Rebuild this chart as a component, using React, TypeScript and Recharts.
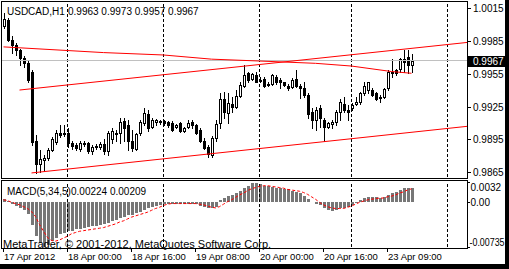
import { ComposedChart, Bar, Line, XAxis, YAxis, ReferenceLine } from "recharts"

const FONT = "'Liberation Sans', Arial, sans-serif"

// USDCAD H1, 17 Apr 2012 08:00 .. 23 Apr 2012 15:00
const OPEN = [
  0.9999, 1.0004, 0.9986, 0.9981, 0.9977, 0.9969, 0.9965, 0.9957, 0.9894, 0.9873,
  0.9876, 0.9878, 0.9885, 0.9893, 0.9901, 0.9901, 0.9901, 0.9892, 0.9890, 0.9886,
  0.9891, 0.9892, 0.9884, 0.9888, 0.9888, 0.9891, 0.9884, 0.9895, 0.9901, 0.9901,
  0.9912, 0.9908, 0.9894, 0.9886, 0.9901, 0.9910, 0.9918, 0.9906, 0.9911, 0.9911,
  0.9912, 0.9911, 0.9910, 0.9906, 0.9910, 0.9903, 0.9906, 0.9911, 0.9908, 0.9904,
  0.9894, 0.9888, 0.9881, 0.9896, 0.9910, 0.9932, 0.9919, 0.9927, 0.9925, 0.9935,
  0.9944, 0.9956, 0.9950, 0.9954, 0.9949, 0.9950, 0.9945, 0.9946, 0.9952, 0.9949,
  0.9947, 0.9944, 0.9943, 0.9950, 0.9944, 0.9942, 0.9936, 0.9920, 0.9913, 0.9924,
  0.9913, 0.9906, 0.9909, 0.9911, 0.9920, 0.9927, 0.9922, 0.9924, 0.9927, 0.9929,
  0.9937, 0.9940, 0.9940, 0.9937, 0.9933, 0.9934, 0.9942, 0.9956, 0.9958, 0.9959,
  0.9968, 0.9970, 0.9963,
]
const HIGH = [
  1.0010, 1.0006, 0.9989, 0.9983, 0.9978, 0.9971, 0.9967, 0.9958, 0.9899, 0.9885,
  0.9881, 0.9887, 0.9897, 0.9904, 0.9908, 0.9908, 0.9905, 0.9894, 0.9892, 0.9894,
  0.9894, 0.9893, 0.9890, 0.9891, 0.9893, 0.9895, 0.9903, 0.9905, 0.9904, 0.9915,
  0.9915, 0.9913, 0.9904, 0.9901, 0.9913, 0.9924, 0.9922, 0.9915, 0.9914, 0.9913,
  0.9913, 0.9912, 0.9912, 0.9909, 0.9911, 0.9906, 0.9913, 0.9913, 0.9909, 0.9905,
  0.9896, 0.9890, 0.9898, 0.9913, 0.9937, 0.9938, 0.9937, 0.9934, 0.9940, 0.9947,
  0.9963, 0.9957, 0.9956, 0.9957, 0.9952, 0.9952, 0.9947, 0.9955, 0.9954, 0.9951,
  0.9947, 0.9946, 0.9951, 0.9958, 0.9946, 0.9947, 0.9937, 0.9924, 0.9925, 0.9926,
  0.9915, 0.9911, 0.9913, 0.9922, 0.9932, 0.9934, 0.9926, 0.9928, 0.9934, 0.9938,
  0.9947, 0.9947, 0.9942, 0.9938, 0.9936, 0.9942, 0.9958, 0.9968, 0.9959, 0.9969,
  0.9977, 0.9977, 0.9973,
]
const LOW = [
  0.9997, 0.9985, 0.9974, 0.9972, 0.9963, 0.9961, 0.9947, 0.9890, 0.9864, 0.9865,
  0.9866, 0.9876, 0.9884, 0.9891, 0.9897, 0.9898, 0.9888, 0.9886, 0.9885, 0.9884,
  0.9889, 0.9883, 0.9882, 0.9886, 0.9886, 0.9882, 0.9881, 0.9892, 0.9894, 0.9892,
  0.9894, 0.9885, 0.9884, 0.9885, 0.9899, 0.9908, 0.9903, 0.9905, 0.9908, 0.9909,
  0.9908, 0.9906, 0.9903, 0.9905, 0.9902, 0.9902, 0.9905, 0.9905, 0.9900, 0.9893,
  0.9886, 0.9879, 0.9879, 0.9894, 0.9905, 0.9915, 0.9910, 0.9920, 0.9924, 0.9934,
  0.9943, 0.9947, 0.9949, 0.9947, 0.9947, 0.9943, 0.9944, 0.9945, 0.9946, 0.9942,
  0.9944, 0.9940, 0.9942, 0.9943, 0.9933, 0.9934, 0.9915, 0.9905, 0.9904, 0.9906,
  0.9894, 0.9905, 0.9905, 0.9908, 0.9913, 0.9920, 0.9913, 0.9922, 0.9926, 0.9927,
  0.9936, 0.9937, 0.9935, 0.9931, 0.9929, 0.9933, 0.9940, 0.9952, 0.9954, 0.9957,
  0.9957, 0.9956, 0.9957,
]
const CLOSE = [
  1.0005, 0.9986, 0.9981, 0.9977, 0.9969, 0.9965, 0.9949, 0.9893, 0.9873, 0.9877,
  0.9878, 0.9885, 0.9895, 0.9901, 0.9899, 0.9900, 0.9892, 0.9889, 0.9887, 0.9892,
  0.9892, 0.9884, 0.9888, 0.9889, 0.9891, 0.9884, 0.9901, 0.9903, 0.9900, 0.9911,
  0.9905, 0.9894, 0.9887, 0.9900, 0.9911, 0.9919, 0.9905, 0.9913, 0.9913, 0.9912,
  0.9910, 0.9908, 0.9904, 0.9908, 0.9903, 0.9905, 0.9910, 0.9908, 0.9901, 0.9894,
  0.9887, 0.9882, 0.9896, 0.9909, 0.9932, 0.9920, 0.9928, 0.9925, 0.9935, 0.9945,
  0.9954, 0.9949, 0.9955, 0.9947, 0.9948, 0.9944, 0.9946, 0.9954, 0.9947, 0.9947,
  0.9945, 0.9942, 0.9949, 0.9944, 0.9942, 0.9936, 0.9918, 0.9913, 0.9922, 0.9915,
  0.9906, 0.9910, 0.9911, 0.9920, 0.9929, 0.9922, 0.9920, 0.9926, 0.9929, 0.9937,
  0.9944, 0.9947, 0.9936, 0.9932, 0.9934, 0.9941, 0.9957, 0.9957, 0.9956, 0.9968,
  0.9966, 0.9963, 0.9967,
]

// MACD(5,34,5): main (histogram) and signal (dotted)
const MACD = [
  0.0004, 0.0001, -0.0004, -0.0007, -0.0010, -0.0013, -0.0020, -0.0037, -0.0056, -0.0067,
  -0.00735, -0.0070, -0.0064, -0.0059, -0.0053, -0.0051, -0.0048, -0.0047, -0.0045, -0.0044,
  -0.0043, -0.0041, -0.0040, -0.0039, -0.0037, -0.0036, -0.0035, -0.0032, -0.0029, -0.0026,
  -0.0024, -0.0022, -0.0021, -0.0018, -0.0016, -0.0013, -0.0011, -0.0009, -0.0007, -0.0005,
  -0.0004, -0.0004, -0.0004, -0.0004, -0.0004, -0.0004, -0.0003, -0.0003, -0.0004, -0.0007,
  -0.0009, -0.0011, -0.0011, -0.0008, 0.0003, 0.0006, 0.0009, 0.0011, 0.0014, 0.0018,
  0.0022, 0.0026, 0.0031, 0.0030, 0.0028, 0.0026, 0.0025, 0.0024, 0.0023, 0.0022,
  0.0021, 0.0020, 0.0017, 0.0016, 0.0014, 0.0010, 0.0004, -0.0001, -0.0003, -0.0005,
  -0.0010, -0.0013, -0.0015, -0.0013, -0.0011, -0.0010, -0.0008, -0.0005, -0.0002, 0.0002,
  0.0006, 0.0007, 0.0007, 0.0007, 0.0006, 0.0007, 0.0011, 0.0014, 0.0016, 0.0019,
  0.0022, 0.0023, 0.00224,
]
const SIGNAL = [
  0.0003, 0.0002, -0.0001, -0.0003, -0.0005, -0.0008, -0.0011, -0.0016, -0.0024, -0.0037,
  -0.0048, -0.0058, -0.0063, -0.0064, -0.0062, -0.0059, -0.0056, -0.0052, -0.0050, -0.0048,
  -0.0047, -0.0046, -0.0045, -0.0044, -0.0043, -0.0042, -0.0040, -0.0038, -0.0036, -0.0033,
  -0.0031, -0.0028, -0.0025, -0.0023, -0.0021, -0.0019, -0.0017, -0.0014, -0.0011, -0.0009,
  -0.0006, -0.0004, -0.0003, -0.0003, -0.0003, -0.0003, -0.0003, -0.0003, -0.0003, -0.0004,
  -0.0005, -0.0007, -0.0009, -0.0010, -0.0008, -0.0004, 0.0000, 0.0003, 0.0007, 0.0011,
  0.0014, 0.0018, 0.0021, 0.0023, 0.0025, 0.0026, 0.0026, 0.0025, 0.0024, 0.0023,
  0.0022, 0.0020, 0.0019, 0.0018, 0.0017, 0.0015, 0.0012, 0.0008, 0.0004, -0.0001,
  -0.0005, -0.0008, -0.0010, -0.0011, -0.0011, -0.0011, -0.0009, -0.0007, -0.0004, -0.0001,
  0.0001, 0.0003, 0.0004, 0.0005, 0.0006, 0.0006, 0.0008, 0.0009, 0.0011, 0.0014,
  0.0016, 0.0019, 0.00209,
]

// drawn objects: bar index -> price
const CURVE_IDX = [0, 25, 40, 52, 64, 78, 87, 97, 102]
const CURVE_VAL = [0.99795, 0.99743, 0.99721, 0.99683, 0.99666, 0.99645, 0.9962, 0.9957, 0.99554]
const CHAN_TOP_IDX = [4, 116]
const CHAN_TOP_VAL = [0.99401, 0.99836]
const CHAN_BOT_IDX = [7, 116]
const CHAN_BOT_VAL = [0.98644, 0.9907]

const SLOTS = 117 // bars + empty space to the right
const DAY_STARTS = [16, 40, 64, 87, 111]
const TIME_TICKS = [0, 16, 32, 48, 64, 80, 96]
const TIME_LABELS = ["17 Apr 2012", "18 Apr 00:00", "18 Apr 16:00", "19 Apr 08:00", "20 Apr 00:00", "20 Apr 16:00", "23 Apr 09:00"]
const PRICE_TICKS = [1.0015, 0.9985, 0.9955, 0.9925, 0.9895, 0.9865]
const MACD_TICKS = [0.0032, 0, -0.00735]
const MACD_LABELS = ["0.0032", "0.00", "-0.00735"]

const LAST = OPEN.length - 1
const LAST_PRICE = CLOSE[LAST]

const rows: any[] = Array.from({ length: SLOTS }, (_, i) => {
  const r: any = { i }
  if (i <= LAST) {
    r.o = OPEN[i]
    r.h = HIGH[i]
    r.l = LOW[i]
    r.c = CLOSE[i]
    r.macd = MACD[i]
    r.signal = SIGNAL[i]
  }
  return r
})
CURVE_IDX.forEach((idx, k) => (rows[idx].curve = CURVE_VAL[k]))
CHAN_TOP_IDX.forEach((idx, k) => (rows[idx].chanTop = CHAN_TOP_VAL[k]))
CHAN_BOT_IDX.forEach((idx, k) => (rows[idx].chanBot = CHAN_BOT_VAL[k]))

function Candle(props: any) {
  const { x, y, width, height, payload } = props
  if (!payload || payload.h == null || x == null) return null
  const top = Math.min(y, y + height)
  const bottom = Math.max(y, y + height)
  const span = payload.h - payload.l
  const toY = (v: number) => (span > 0 ? top + ((payload.h - v) / span) * (bottom - top) : top)
  const cx = Math.floor(x + width / 2) + 0.5
  const yo = Math.round(toY(payload.o))
  const yc = Math.round(toY(payload.c))
  const bTop = Math.min(yo, yc)
  const bBot = Math.max(yo, yc)
  const up = payload.c >= payload.o
  return (
    <g shapeRendering="crispEdges">
      <line x1={cx} x2={cx} y1={Math.round(top)} y2={Math.round(bottom) + 1} stroke="#000" />
      {bBot - bTop < 1 ? (
        <line x1={cx - 1.5} x2={cx + 1.5} y1={bTop + 0.5} y2={bTop + 0.5} stroke="#000" />
      ) : up ? (
        <rect x={cx - 1} y={bTop + 0.5} width={2} height={bBot - bTop} fill="#fff" stroke="#000" />
      ) : (
        <rect x={cx - 1.5} y={bTop} width={3} height={bBot - bTop + 1} fill="#000" />
      )}
    </g>
  )
}

function HistBar(props: any) {
  const { x, y, width, height } = props
  if (x == null || y == null || height == null) return null
  const y1 = Math.round(Math.min(y, y + height))
  const y2 = Math.round(Math.max(y, y + height))
  if (y2 - y1 < 1) return null
  return <rect x={Math.round(x)} y={y1} width={Math.round(width)} height={y2 - y1} fill="#777777" shapeRendering="crispEdges" />
}

function PriceTick({ x, y, payload }: any) {
  const v = payload.value
  const ty = Math.round(y)
  if (v === LAST_PRICE) {
    return (
      <g>
        <rect x={Math.floor(x) - 1} y={ty - 5} width={40} height={11} fill="#000" shapeRendering="crispEdges" />
        <text x={x + 3.5} y={ty + 4} fill="#fff" fontSize={10} fontFamily={FONT} textAnchor="start">{v.toFixed(4)}</text>
      </g>
    )
  }
  return (
    <g>
      <line x1={x - 1.5} x2={x + 1.5} y1={ty + 0.5} y2={ty + 0.5} stroke="#000" shapeRendering="crispEdges" />
      <text x={x + 3.5} y={ty + 4} fill="#000" fontSize={10} fontFamily={FONT} textAnchor="start">{v.toFixed(4)}</text>
    </g>
  )
}

function MacdTick({ x, y, payload }: any) {
  const k = MACD_TICKS.indexOf(payload.value)
  const ty = Math.round(y)
  const dy = k === 0 ? 9 : k === 2 ? -1.5 : 4
  const fit = k === 2 ? { textLength: 35, lengthAdjust: "spacingAndGlyphs" } : {}
  return (
    <g>
      <line x1={x - 1.5} x2={x + 0.5} y1={ty + 0.5} y2={ty + 0.5} stroke="#000" shapeRendering="crispEdges" />
      <text x={k === 2 ? x : x + 1} y={ty + dy} fill="#000" fontSize={10} fontFamily={FONT} textAnchor="start" {...fit}>
        {MACD_LABELS[k]}
      </text>
    </g>
  )
}

function TimeTick({ x, y, payload }: any) {
  const k = TIME_TICKS.indexOf(payload.value)
  const cx = Math.floor(x) + 0.5
  return (
    <g>
      <line x1={cx} x2={cx} y1={y + 1} y2={y + 5} stroke="#000" shapeRendering="crispEdges" />
      <text x={cx + 0.5} y={y + 13} fill="#000" fontSize={9.5} fontFamily={FONT} textAnchor="start">{TIME_LABELS[k]}</text>
    </g>
  )
}

const frame = (left: number, top: number, w: number, h: number): any => ({
  position: "absolute", left, top, width: w, height: h, border: "1px solid #000", pointerEvents: "none",
})

export default function App() {
  const ohlc = [OPEN[LAST], HIGH[LAST], LOW[LAST], CLOSE[LAST]].map(v => v.toFixed(4)).join(" ")
  return (
    <div style={{ position: "absolute", left: 0, top: 0, width: 509, height: 269, background: "#fff", overflow: "hidden" }}>
      {/* price window */}
      <div style={{ position: "absolute", left: 0, top: 0 }}>
        <ComposedChart width={509} height={180} data={rows} margin={{ top: 1, right: 0, bottom: 3, left: 1.5 }}>
          <XAxis dataKey="i" hide />
          <YAxis
            orientation="right"
            width={39.5}
            domain={[0.98607, 1.00214]}
            allowDataOverflow
            ticks={[...PRICE_TICKS, LAST_PRICE]}
            interval={0}
            axisLine={false}
            tickLine={false}
            tickSize={0}
            tickMargin={0}
            tick={<PriceTick />}
          />
          {DAY_STARTS.map(d => (
            <ReferenceLine key={d} x={d} stroke="#000" strokeDasharray="3 2" shapeRendering="crispEdges" />
          ))}
          <ReferenceLine y={LAST_PRICE} stroke="#C0C0C0" shapeRendering="crispEdges" />
          <Bar
            dataKey={(d: any) => (d.h == null ? null : [d.l, d.h])}
            barSize={3}
            shape={(p: any) => <Candle {...p} />}
            isAnimationActive={false}
          />
          <Line dataKey="curve" stroke="#FF0000" strokeWidth={1} dot={false} connectNulls isAnimationActive={false} />
          <Line dataKey="chanTop" stroke="#FF0000" strokeWidth={1} dot={false} connectNulls isAnimationActive={false} />
          <Line dataKey="chanBot" stroke="#FF0000" strokeWidth={1} dot={false} connectNulls isAnimationActive={false} />
        </ComposedChart>
      </div>

      {/* MACD window */}
      <div style={{ position: "absolute", left: 0, top: 180 }}>
        <ComposedChart width={509} height={89} data={rows} margin={{ top: 2, right: 0, bottom: 0, left: 1.5 }}>
          <XAxis
            dataKey="i"
            height={22}
            ticks={TIME_TICKS}
            interval={0}
            axisLine={false}
            tickLine={false}
            tickSize={0}
            tickMargin={0}
            tick={<TimeTick />}
          />
          <YAxis
            orientation="right"
            width={39.5}
            domain={[-0.00735, 0.0032]}
            allowDataOverflow
            ticks={MACD_TICKS}
            interval={0}
            axisLine={false}
            tickLine={false}
            tickSize={0}
            tickMargin={0}
            tick={<MacdTick />}
          />
          {DAY_STARTS.map(d => (
            <ReferenceLine key={d} x={d} stroke="#000" strokeDasharray="3 2" shapeRendering="crispEdges" />
          ))}
          <Bar dataKey="macd" barSize={3} shape={(p: any) => <HistBar {...p} />} isAnimationActive={false} />
          <Line dataKey="signal" stroke="#FF0000" strokeWidth={1} strokeDasharray="3 2" dot={false} isAnimationActive={false} />
        </ComposedChart>
      </div>

      {/* window frames */}
      <div style={frame(1, 1, 465, 176)} />
      <div style={frame(1, 180, 465, 67)} />

      {/* captions */}
      <svg width={509} height={269} style={{ position: "absolute", left: 0, top: 0, pointerEvents: "none" }}>
        <text x={7} y={15} fontSize={10} fontFamily={FONT} fill="#000">USDCAD,H1</text>
        <text x={68} y={15} fontSize={10} fontFamily={FONT} fill="#000">{ohlc}</text>
        <text x={7} y={195} fontSize={10} fontFamily={FONT} fill="#000">MACD(5,34,5)</text>
        <text x={71} y={195} fontSize={10} fontFamily={FONT} fill="#000">
          {MACD[LAST].toFixed(5)} {SIGNAL[LAST].toFixed(5)}
        </text>
        <text x={3} y={248} fontSize={11} fontFamily={FONT} fill="#000">MetaTrader, © 2001-2012, MetaQuotes Software Corp.</text>
      </svg>

      {/* terminal window edges */}
      <div style={{ position: "absolute", left: 505, top: 0, width: 4, height: 269, background: "#000" }} />
      <div style={{ position: "absolute", left: 0, top: 264, width: 509, height: 5, background: "#000" }} />
    </div>
  )
}
